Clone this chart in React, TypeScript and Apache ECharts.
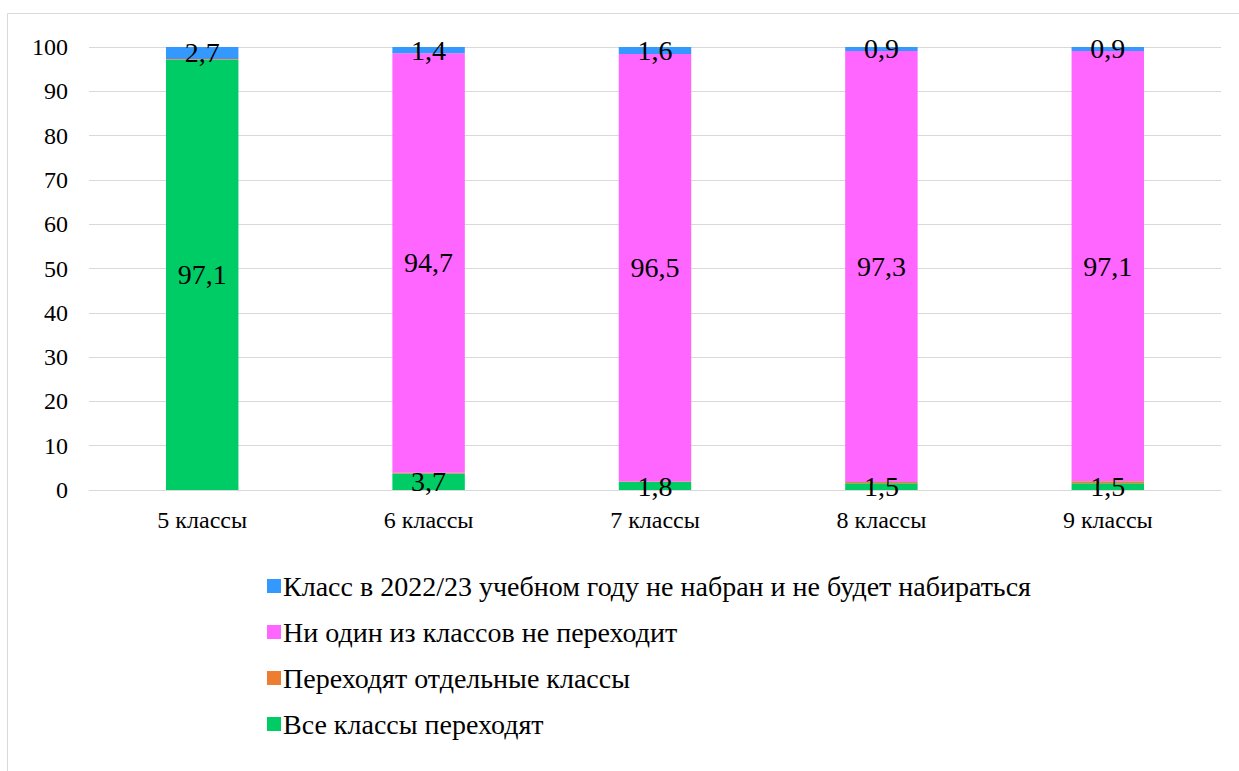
import React, { useEffect, useRef } from "react";
import * as echarts from "echarts";

const categories = ["5 классы", "6 классы", "7 классы", "8 классы", "9 классы"];
const allMove = [97.1, 3.7, 1.8, 1.5, 1.5];
const someMove = [0.2, 0.2, 0.1, 0.3, 0.5];
const noneMove = [0, 94.7, 96.5, 97.3, 97.1];
const notRecruited = [2.7, 1.4, 1.6, 0.9, 0.9];
const seriesNames = [
  "Все классы переходят",
  "Переходят отдельные классы",
  "Ни один из классов не переходит",
  "Класс в 2022/23 учебном году не набран и не будет набираться",
];
const yTicks = [0, 10, 20, 30, 40, 50, 60, 70, 80, 90, 100];

const FONT = "Liberation Serif";

export default function App() {
  const ref = useRef<HTMLDivElement>(null);
  useEffect(() => {
    if (!ref.current) return;
    const chart = echarts.init(ref.current, null, { renderer: "svg" });
    const fmt = (p: any) => (p.value > 0 ? p.value.toFixed(1).replace(".", ",") : "");
    const mk = (name: string, data: number[], color: string, showLabel: boolean) => ({
      name,
      type: "bar",
      stack: "s",
      data,
      barWidth: "32%",
      itemStyle: { color },
      label: {
        show: showLabel,
        position: "inside",
        formatter: fmt,
        color: "#000",
        fontFamily: FONT,
        fontSize: 28,
      },
    });
    chart.setOption({
      animation: false,
      backgroundColor: "#fff",
      textStyle: { fontFamily: FONT },
      graphic: [
        {
          type: "rect",
          shape: { x: 7.5, y: 13.5, width: 1250, height: 780 },
          style: { fill: "none", stroke: "#d9d9d9", lineWidth: 1 },
          silent: true,
        },
      ],
      grid: { left: 89, right: 18, top: 47, bottom: 281, containLabel: false },
      legend: {
        orient: "vertical",
        left: 262,
        top: 567,
        itemGap: 18,
        itemWidth: 14,
        itemHeight: 14,
        icon: "rect",
        data: [seriesNames[3], seriesNames[2], seriesNames[1], seriesNames[0]],
        textStyle: { fontFamily: FONT, fontSize: 28, color: "#000", padding: [0, 0, 0, -3] },
      },
      xAxis: {
        type: "category",
        data: categories,
        axisLine: { lineStyle: { color: "#d9d9d9" } },
        axisTick: { show: false },
        axisLabel: { fontFamily: FONT, fontSize: 24, color: "#000", margin: 18 },
      },
      yAxis: {
        type: "value",
        min: yTicks[0],
        max: yTicks[yTicks.length - 1],
        interval: 10,
        axisLine: { show: false },
        axisTick: { show: false },
        splitLine: { lineStyle: { color: "#d9d9d9" } },
        axisLabel: { fontFamily: FONT, fontSize: 24, color: "#000", margin: 21 },
      },
      series: [
        mk(seriesNames[0], allMove, "#00cc66", true),
        mk(seriesNames[1], someMove, "#ed7d31", false),
        mk(seriesNames[2], noneMove, "#ff66ff", true),
        mk(seriesNames[3], notRecruited, "#3399ff", true),
      ],
    });
    return () => chart.dispose();
  }, []);
  return (
    <div
      ref={ref}
      style={{ position: "fixed", left: 0, top: 0, width: 1239, height: 771 }}
    />
  );
}
